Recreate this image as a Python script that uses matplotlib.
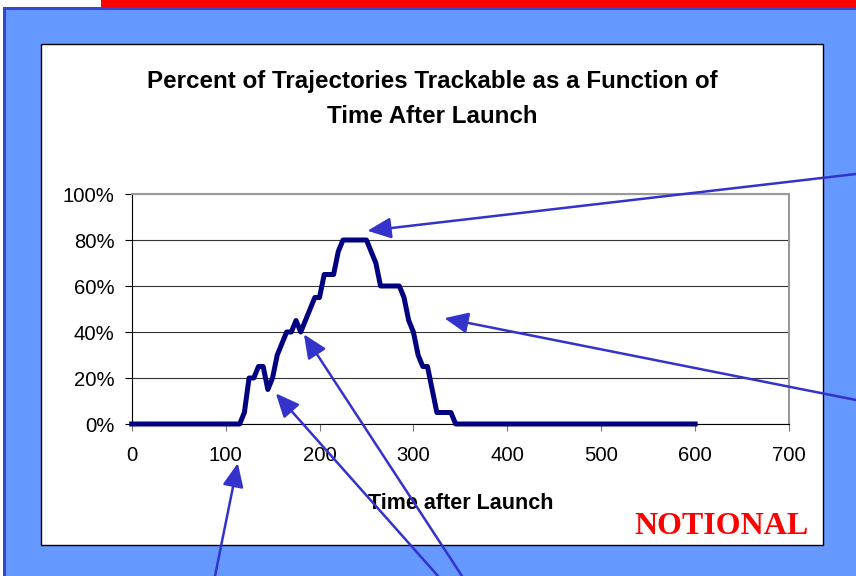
import matplotlib
matplotlib.use("Agg")
import matplotlib.pyplot as plt
from matplotlib.patches import Rectangle
from matplotlib.ticker import PercentFormatter

# time after launch (s) and percent trackable
time = [0, 115, 120, 125, 130, 135, 140, 145, 150, 155, 160, 165, 170, 175,
        180, 185, 190, 195, 200, 205, 215, 220, 225, 250, 260, 265, 285, 290,
        295, 300, 305, 310, 315, 325, 340, 345, 600]
pct = [0, 0, 5, 20, 20, 25, 25, 15, 20, 30, 35, 40, 40, 45,
       40, 45, 50, 55, 55, 65, 65, 75, 80, 80, 70, 60, 60, 55,
       45, 40, 30, 25, 25, 5, 5, 0, 0]

x_ticks = [0, 100, 200, 300, 400, 500, 600, 700]
y_ticks = [0, 20, 40, 60, 80, 100]

# callout arrows: tip in data coords, tail in image pixels (x, y from top)
arrow_tips = [(251, 84), (333, 46), (183.4, 39), (153.5, 13.3), (113, -17)]
arrow_tails = [(856, 174), (856, 400), (462, 576), (438, 576), (215, 576)]

W, H = 856, 576
fig = plt.figure(figsize=(W / 100, H / 100), dpi=100)
fig.patch.set_facecolor("white")


def box(x0, y0, x1, y1, **kw):
    # rectangle given in image pixel coords (origin top-left)
    r = Rectangle((x0 / W, 1 - y1 / H), (x1 - x0) / W, (y1 - y0) / H,
                  transform=fig.transFigure, zorder=-5, **kw)
    fig.add_artist(r)


box(101, 0, W, 7, facecolor="#FF0000", edgecolor="none")
box(3, 7, W + 5, H + 5, facecolor="#3344D8", edgecolor="none")
box(6, 10, W + 5, H + 5, facecolor="#6699FF", edgecolor="none")
box(41, 44, 823, 545, facecolor="white", edgecolor="black", linewidth=1.0)

ax = fig.add_axes([131.7 / W, 1 - 424 / H, (789 - 131.7) / W, 230 / H])
ax.set_facecolor("white")
ax.plot(time, pct, color="#000080", linewidth=3.6, solid_joinstyle="round",
        zorder=3, clip_on=False)

ax.set_xlim(0, 700)
ax.set_ylim(0, 100)
ax.set_xticks(x_ticks)
ax.set_yticks(y_ticks)
ax.yaxis.set_major_formatter(PercentFormatter(decimals=0))
ax.grid(axis="y", color="#333333", linewidth=0.8)
ax.set_axisbelow(True)

for s in ["top", "right"]:
    ax.spines[s].set_color("#999999")
    ax.spines[s].set_linewidth(1.5)
for s in ["left", "bottom"]:
    ax.spines[s].set_color("black")
    ax.spines[s].set_linewidth(0.8)

ax.tick_params(axis="y", direction="out", length=5, width=0.8, pad=7.5,
               labelsize=14.6, colors="black")
ax.tick_params(axis="x", direction="out", length=5, width=0.8, pad=11,
               labelsize=14.6, color="#777777", labelcolor="black")
for lab in ax.get_xticklabels() + ax.get_yticklabels():
    lab.set_fontfamily("Liberation Sans")

ax.set_xlabel("Time after Launch", fontsize=15.5, fontweight="bold",
              family="Liberation Sans", labelpad=20)

fig.text(432 / W, 1 - 99 / H,
         "Percent of Trajectories Trackable as a Function of\nTime After Launch",
         ha="center", va="center", fontsize=17.4, fontweight="bold",
         family="Liberation Sans", linespacing=1.68)

fig.text(809 / W, 1 - 534 / H, "NOTIONAL", ha="right", va="baseline",
         fontsize=23, fontweight="bold", family="Liberation Serif",
         color="#FF0000")

for tip, tail in zip(arrow_tips, arrow_tails):
    ax.annotate("", xy=tip, xycoords="data",
                xytext=(tail[0], H - tail[1]), textcoords="figure pixels",
                annotation_clip=False,
                arrowprops=dict(arrowstyle="-|>,head_length=0.9,head_width=0.4",
                                mutation_scale=16, color="#3333CC",
                                linewidth=1.8, shrinkA=0, shrinkB=0),
                zorder=6)

fig.savefig("out.png", dpi=100)
